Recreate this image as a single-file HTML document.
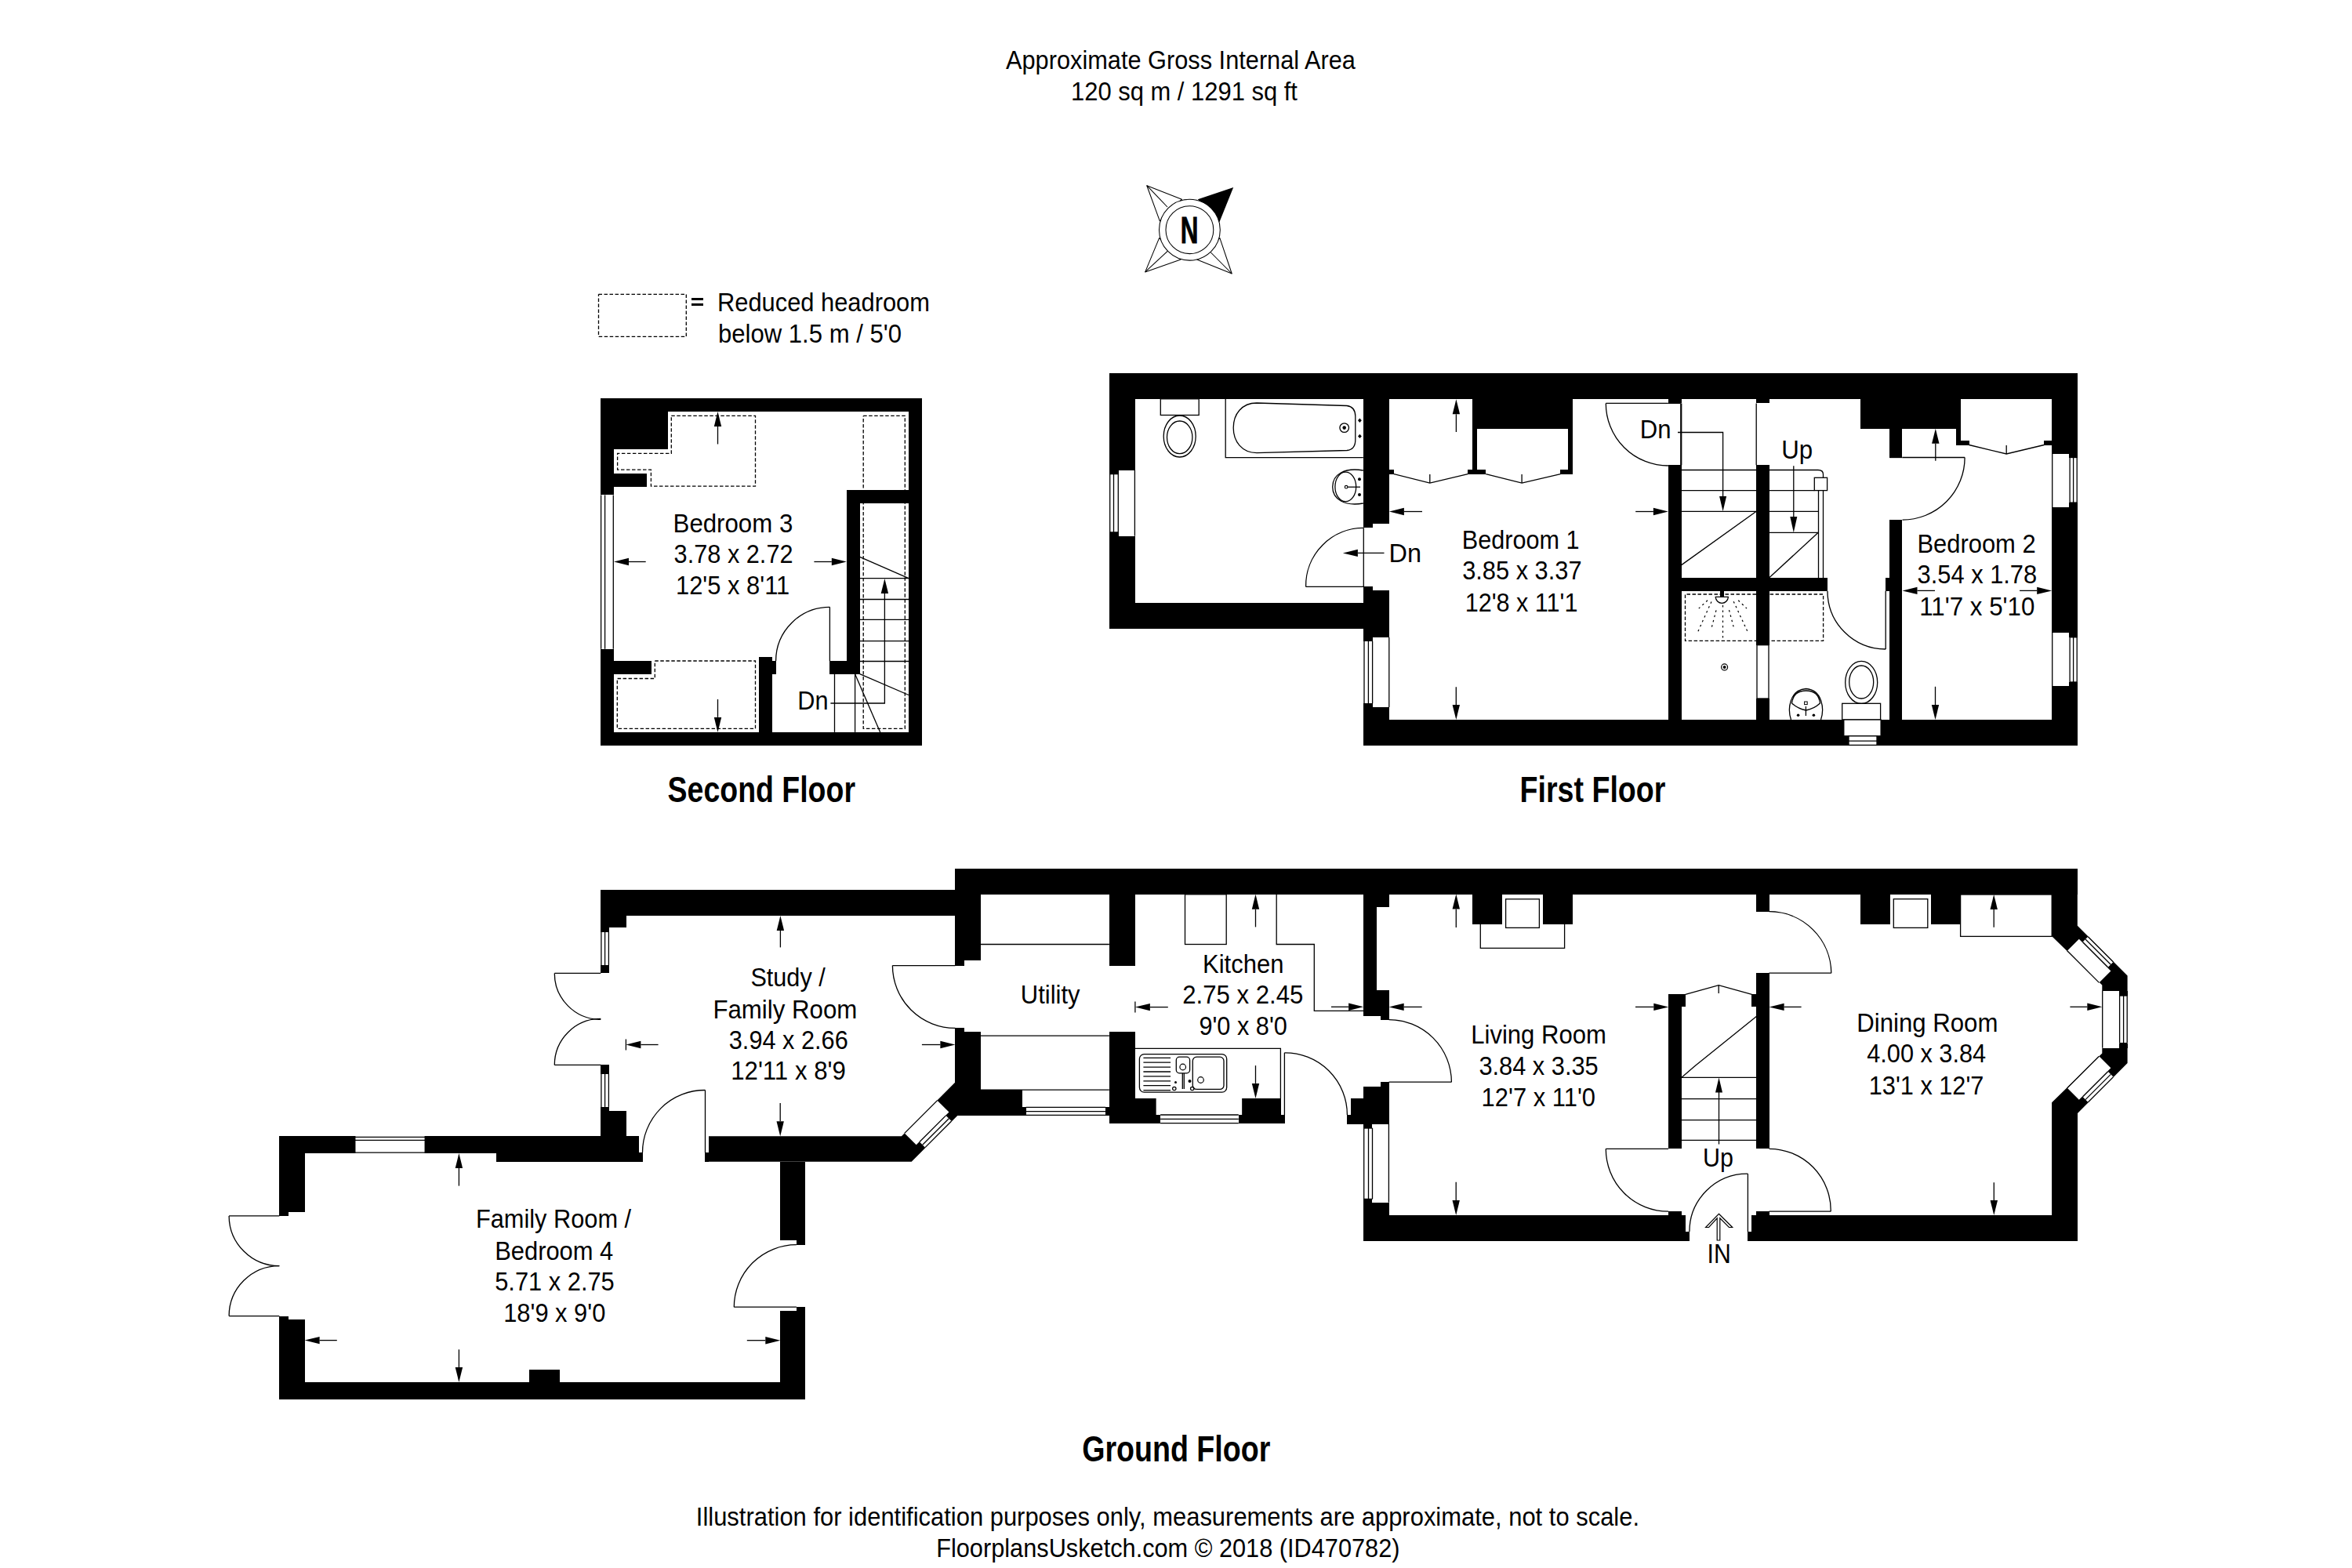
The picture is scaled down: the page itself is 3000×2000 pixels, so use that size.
<!DOCTYPE html>
<html><head><meta charset="utf-8"><style>
html,body{margin:0;padding:0;background:#fff;}
svg{display:block;}
text{font-family:"Liberation Sans",sans-serif;}
</style></head><body>
<svg width="3000" height="2000" viewBox="0 0 3000 2000">
<rect x="0" y="0" width="3000" height="2000" fill="#fff"/>
<text x="1283" y="88" font-family="Liberation Sans" font-size="33.3" textLength="445.92" lengthAdjust="spacingAndGlyphs" fill="#000">Approximate Gross Internal Area</text>
<text x="1366" y="127.5" font-family="Liberation Sans" font-size="33.3" textLength="288.97" lengthAdjust="spacingAndGlyphs" fill="#000">120 sq m / 1291 sq ft</text>
<polygon points="1462.8,236.7 1507.4,254.3 1479.3,281.9" fill="#fff" stroke="#000" stroke-width="1.05" stroke-linejoin="round"/>
<polyline points="1462.8,236.7 1489,264" fill="none" stroke="#000" stroke-width="1.05"/>
<polygon points="1460.7,346.9 1478.6,303.6 1506.1,330.9" fill="#fff" stroke="#000" stroke-width="1.05" stroke-linejoin="round"/>
<polyline points="1460.7,346.9 1489.5,320.2" fill="none" stroke="#000" stroke-width="1.05"/>
<polygon points="1571.2,349 1555.9,303.6 1526.5,330.9" fill="#fff" stroke="#000" stroke-width="1.05" stroke-linejoin="round"/>
<polyline points="1571.2,349 1544.4,322" fill="none" stroke="#000" stroke-width="1.05"/>
<polygon points="1573.2,239 1527.8,254.3 1555.4,283.2" fill="#000"/>
<circle cx="1517.4" cy="293.2" r="38.9" fill="#fff" stroke="#000" stroke-width="1.05"/>
<circle cx="1517.4" cy="293.2" r="30.4" fill="#fff" stroke="#000" stroke-width="1.05"/>
<g stroke="#000" stroke-width="0.9">
<text x="1505.8" y="310" font-family="Liberation Sans" font-weight="bold" font-size="48" textLength="22.67" lengthAdjust="spacingAndGlyphs" fill="#000">N</text>
</g>
<polyline points="763.5,375.3 875.3,375.3 875.3,429.4 763.5,429.4 763.5,375.3" fill="none" stroke="#000" stroke-width="1.3" stroke-dasharray="4.5,2.5"/>
<rect x="882" y="380" width="15" height="3" fill="#000" shape-rendering="crispEdges"/>
<rect x="882" y="387" width="15" height="3" fill="#000" shape-rendering="crispEdges"/>
<text x="915" y="397.3" font-family="Liberation Sans" font-size="33.3" textLength="270.97" lengthAdjust="spacingAndGlyphs" fill="#000">Reduced headroom</text>
<text x="916" y="437" font-family="Liberation Sans" font-size="33.3" textLength="233.95" lengthAdjust="spacingAndGlyphs" fill="#000">below 1.5 m / 5'0</text>
<polyline points="856.3,530.4 963.5,530.4 963.5,620.2 830.4,620.2 830.4,599.2 787.6,599.2 787.6,578.4 856.3,578.4 856.3,530.4" fill="none" stroke="#000" stroke-width="1.3" stroke-dasharray="4.5,2.5"/>
<polyline points="1101.2,530.4 1154.3,530.4 1154.3,929.4 1101.2,929.4 1101.2,530.4" fill="none" stroke="#000" stroke-width="1.3" stroke-dasharray="4.5,2.5"/>
<polyline points="835.3,843 963.5,843 963.5,929.4 787.3,929.4 787.3,865.5 835.3,865.5 835.3,843" fill="none" stroke="#000" stroke-width="1.3" stroke-dasharray="4.5,2.5"/>
<rect x="766" y="508" width="410" height="17" fill="#000" shape-rendering="crispEdges"/>
<rect x="766" y="934" width="410" height="17" fill="#000" shape-rendering="crispEdges"/>
<rect x="1159" y="508" width="17" height="443" fill="#000" shape-rendering="crispEdges"/>
<rect x="766" y="508" width="17" height="123" fill="#000" shape-rendering="crispEdges"/>
<rect x="766" y="828" width="17" height="123" fill="#000" shape-rendering="crispEdges"/>
<rect x="766" y="508" width="86" height="65" fill="#000" shape-rendering="crispEdges"/>
<rect x="783" y="604" width="42" height="17" fill="#000" shape-rendering="crispEdges"/>
<rect x="783" y="843" width="48" height="17" fill="#000" shape-rendering="crispEdges"/>
<rect x="968" y="838" width="17" height="96" fill="#000" shape-rendering="crispEdges"/>
<rect x="985" y="843" width="5" height="17" fill="#000" shape-rendering="crispEdges"/>
<rect x="1058" y="843" width="39" height="17" fill="#000" shape-rendering="crispEdges"/>
<rect x="1080" y="625" width="17" height="235" fill="#000" shape-rendering="crispEdges"/>
<rect x="1080" y="625" width="79" height="17" fill="#000" shape-rendering="crispEdges"/>
<rect x="766" y="631" width="17" height="197" fill="#fff" shape-rendering="crispEdges"/>
<polyline points="766.6,631.4 766.6,827.8" fill="none" stroke="#000" stroke-width="1.3"/>
<polyline points="771.6,631.4 771.6,827.8" fill="none" stroke="#000" stroke-width="1.3"/>
<polyline points="782.3,631.4 782.3,827.8" fill="none" stroke="#000" stroke-width="1.3"/>
<polyline points="1058.4,774.3 1058.4,843" fill="none" stroke="#000" stroke-width="1.3"/>
<path d="M1058.4,774.3 A68.8,68.8 0 0 0 989.6,843" fill="none" stroke="#000" stroke-width="1.3"/>
<polyline points="1096.7,737.6 1159,737.6" fill="none" stroke="#000" stroke-width="1.3"/>
<polyline points="1096.7,764.5 1159,764.5" fill="none" stroke="#000" stroke-width="1.3"/>
<polyline points="1096.7,790.4 1159,790.4" fill="none" stroke="#000" stroke-width="1.3"/>
<polyline points="1096.7,817.6 1159,817.6" fill="none" stroke="#000" stroke-width="1.3"/>
<polyline points="1096.7,843.5 1159,843.5" fill="none" stroke="#000" stroke-width="1.3"/>
<polyline points="1096.7,710.4 1159,737.6" fill="none" stroke="#000" stroke-width="1.3"/>
<polyline points="1096.7,859.6 1159,886.5" fill="none" stroke="#000" stroke-width="1.3"/>
<polyline points="1064.5,859.8 1064.5,933.9" fill="none" stroke="#000" stroke-width="1.3"/>
<polyline points="1090.6,859.8 1090.6,933.9" fill="none" stroke="#000" stroke-width="1.3"/>
<polyline points="1090.6,859.8 1122.7,933.9" fill="none" stroke="#000" stroke-width="1.3"/>
<polyline points="1059.4,897 1128.4,897 1128.4,757" fill="none" stroke="#000" stroke-width="1.3"/>
<polygon points="1128.4,738 1123.7,757 1133.1,757" fill="#000"/>
<text x="1017.3" y="905" font-family="Liberation Sans" font-size="33.3" textLength="39.25" lengthAdjust="spacingAndGlyphs" fill="#000">Dn</text>
<polyline points="915.5,566.5 915.5,544" fill="none" stroke="#000" stroke-width="1.3"/>
<polygon points="915.5,525 920.2,544 910.8,544" fill="#000"/>
<polyline points="915.5,892 915.5,914.9" fill="none" stroke="#000" stroke-width="1.3"/>
<polygon points="915.5,933.9 910.8,914.9 920.2,914.9" fill="#000"/>
<polyline points="823.7,716.5 802,716.5" fill="none" stroke="#000" stroke-width="1.3"/>
<polygon points="783,716.5 802,711.8 802,721.2" fill="#000"/>
<polyline points="1038.4,716.5 1060.8,716.5" fill="none" stroke="#000" stroke-width="1.3"/>
<polygon points="1079.8,716.5 1060.8,721.2 1060.8,711.8" fill="#000"/>
<text x="858.6" y="678.8" font-family="Liberation Sans" font-size="33.3" textLength="152.66" lengthAdjust="spacingAndGlyphs" fill="#000">Bedroom 3</text>
<text x="859.6" y="718" font-family="Liberation Sans" font-size="33.3" textLength="151.95" lengthAdjust="spacingAndGlyphs" fill="#000">3.78 x 2.72</text>
<text x="862" y="758" font-family="Liberation Sans" font-size="33.3" textLength="145.21" lengthAdjust="spacingAndGlyphs" fill="#000">12'5 x 8'11</text>
<text x="851.6" y="1022.6" font-family="Liberation Sans" font-weight="bold" font-size="46" textLength="239.37" lengthAdjust="spacingAndGlyphs" fill="#000">Second Floor</text>
<polyline points="2240,758 2149.5,758 2149.5,817.4 2240,817.4" fill="none" stroke="#000" stroke-width="1.3" stroke-dasharray="4.5,2.5"/>
<polyline points="2257.6,758 2325.6,758 2325.6,817.4 2257.6,817.4" fill="none" stroke="#000" stroke-width="1.3" stroke-dasharray="4.5,2.5"/>
<rect x="1415" y="476" width="1235" height="33" fill="#000" shape-rendering="crispEdges"/>
<rect x="1415" y="476" width="33" height="326" fill="#000" shape-rendering="crispEdges"/>
<rect x="1415" y="769" width="357" height="33" fill="#000" shape-rendering="crispEdges"/>
<rect x="1739" y="918" width="911" height="33" fill="#000" shape-rendering="crispEdges"/>
<rect x="2617" y="476" width="33" height="475" fill="#000" shape-rendering="crispEdges"/>
<rect x="1739" y="476" width="33" height="192" fill="#000" shape-rendering="crispEdges"/>
<rect x="1739" y="668" width="12" height="5" fill="#000" shape-rendering="crispEdges"/>
<rect x="1739" y="748" width="12" height="5" fill="#000" shape-rendering="crispEdges"/>
<rect x="1739" y="753" width="33" height="198" fill="#000" shape-rendering="crispEdges"/>
<rect x="1739" y="813" width="33" height="89" fill="#fff" shape-rendering="crispEdges"/>
<polyline points="1740,817.9 1740,897.3" fill="none" stroke="#000" stroke-width="1.3"/>
<polyline points="1745.4,817.9 1745.4,897.3" fill="none" stroke="#000" stroke-width="1.3"/>
<polyline points="1750.6,817.9 1750.6,897.3" fill="none" stroke="#000" stroke-width="1.3"/>
<rect x="1739" y="813" width="12" height="5" fill="#000" shape-rendering="crispEdges"/>
<rect x="1739" y="897" width="12" height="5" fill="#000" shape-rendering="crispEdges"/>
<polyline points="1771.8,813 1771.8,902" fill="none" stroke="#000" stroke-width="1.3"/>
<rect x="1415" y="600" width="33" height="84" fill="#fff" shape-rendering="crispEdges"/>
<rect x="1415" y="600" width="12" height="5" fill="#000" shape-rendering="crispEdges"/>
<rect x="1415" y="679" width="12" height="5" fill="#000" shape-rendering="crispEdges"/>
<polyline points="1415.7,604.6 1415.7,678.9" fill="none" stroke="#000" stroke-width="1.3"/>
<polyline points="1420.5,604.6 1420.5,678.9" fill="none" stroke="#000" stroke-width="1.3"/>
<polyline points="1426.3,604.6 1426.3,678.9" fill="none" stroke="#000" stroke-width="1.3"/>
<polyline points="1415.7,604.6 1426.3,604.6" fill="none" stroke="#000" stroke-width="1.3"/>
<polyline points="1415.7,678.9 1426.3,678.9" fill="none" stroke="#000" stroke-width="1.3"/>
<polyline points="1447.4,599.7 1447.4,683.7" fill="none" stroke="#000" stroke-width="1.3"/>
<rect x="1878" y="509" width="128" height="38" fill="#000" shape-rendering="crispEdges"/>
<rect x="1878" y="547" width="6" height="58" fill="#000" shape-rendering="crispEdges"/>
<rect x="2000" y="547" width="6" height="58" fill="#000" shape-rendering="crispEdges"/>
<rect x="1772" y="599" width="6" height="6" fill="#000" shape-rendering="crispEdges"/>
<rect x="1872" y="599" width="23" height="6" fill="#000" shape-rendering="crispEdges"/>
<rect x="1990" y="599" width="16" height="6" fill="#000" shape-rendering="crispEdges"/>
<polyline points="1777.9,604.6 1823.8,616.1 1872.2,604.6" fill="none" stroke="#000" stroke-width="1.3"/>
<polyline points="1823.8,616.1 1823.8,605" fill="none" stroke="#000" stroke-width="1.3"/>
<polyline points="1895.2,604.6 1941.1,616.1 1990.4,604.6" fill="none" stroke="#000" stroke-width="1.3"/>
<polyline points="1941.1,616.1 1941.1,605" fill="none" stroke="#000" stroke-width="1.3"/>
<rect x="2128" y="593" width="17" height="358" fill="#000" shape-rendering="crispEdges"/>
<rect x="2128" y="509" width="17" height="5" fill="#000" shape-rendering="crispEdges"/>
<rect x="2240" y="593" width="17" height="144" fill="#000" shape-rendering="crispEdges"/>
<rect x="2240" y="509" width="17" height="5" fill="#000" shape-rendering="crispEdges"/>
<rect x="2145" y="737" width="186" height="17" fill="#000" shape-rendering="crispEdges"/>
<rect x="2240" y="754" width="17" height="69" fill="#000" shape-rendering="crispEdges"/>
<rect x="2240" y="891" width="17" height="27" fill="#000" shape-rendering="crispEdges"/>
<rect x="2241" y="822.7" width="15" height="68.3" fill="#fff" stroke="#000" stroke-width="1.3"/>
<rect x="2405" y="737" width="5" height="17" fill="#000" shape-rendering="crispEdges"/>
<rect x="2373" y="509" width="128" height="38" fill="#000" shape-rendering="crispEdges"/>
<rect x="2410" y="547" width="16" height="37" fill="#000" shape-rendering="crispEdges"/>
<rect x="2495" y="547" width="6" height="21" fill="#000" shape-rendering="crispEdges"/>
<rect x="2495" y="562" width="17" height="6" fill="#000" shape-rendering="crispEdges"/>
<rect x="2607" y="562" width="10" height="6" fill="#000" shape-rendering="crispEdges"/>
<rect x="2410" y="663" width="16" height="288" fill="#000" shape-rendering="crispEdges"/>
<polyline points="2511.6,567.5 2559.2,579 2607.3,567.5" fill="none" stroke="#000" stroke-width="1.3"/>
<polyline points="2559.2,579 2559.2,568" fill="none" stroke="#000" stroke-width="1.3"/>
<rect x="2617" y="579" width="33" height="68" fill="#fff" shape-rendering="crispEdges"/>
<rect x="2639" y="579" width="11" height="5" fill="#000" shape-rendering="crispEdges"/>
<rect x="2639" y="641" width="11" height="6" fill="#000" shape-rendering="crispEdges"/>
<polyline points="2640.1,583.5 2640.1,641.1" fill="none" stroke="#000" stroke-width="1.3"/>
<polyline points="2644.6,583.5 2644.6,641.1" fill="none" stroke="#000" stroke-width="1.3"/>
<polyline points="2649.2,583.5 2649.2,641.1" fill="none" stroke="#000" stroke-width="1.3"/>
<polyline points="2640.1,583.5 2649.2,583.5" fill="none" stroke="#000" stroke-width="1.3"/>
<polyline points="2640.1,641.1 2649.2,641.1" fill="none" stroke="#000" stroke-width="1.3"/>
<polyline points="2617.7,578.9 2617.7,646.9" fill="none" stroke="#000" stroke-width="1.3"/>
<rect x="2617" y="807" width="33" height="68" fill="#fff" shape-rendering="crispEdges"/>
<rect x="2639" y="807" width="11" height="6" fill="#000" shape-rendering="crispEdges"/>
<rect x="2639" y="870" width="11" height="5" fill="#000" shape-rendering="crispEdges"/>
<polyline points="2640.1,812.8 2640.1,870" fill="none" stroke="#000" stroke-width="1.3"/>
<polyline points="2644.6,812.8 2644.6,870" fill="none" stroke="#000" stroke-width="1.3"/>
<polyline points="2649.2,812.8 2649.2,870" fill="none" stroke="#000" stroke-width="1.3"/>
<polyline points="2640.1,812.8 2649.2,812.8" fill="none" stroke="#000" stroke-width="1.3"/>
<polyline points="2640.1,870 2649.2,870" fill="none" stroke="#000" stroke-width="1.3"/>
<polyline points="2617.7,807 2617.7,875" fill="none" stroke="#000" stroke-width="1.3"/>
<polyline points="1739.3,748.4 1665.6,748.4" fill="none" stroke="#000" stroke-width="1.3"/>
<path d="M1665.6,748.4 A73.7,73.7 0 0 1 1739.3,673.4" fill="none" stroke="#000" stroke-width="1.3"/>
<polyline points="1739.3,673.4 1739.3,748.4" fill="none" stroke="#000" stroke-width="1.3"/>
<polyline points="2127.9,514.4 2048.3,514.4" fill="none" stroke="#000" stroke-width="1.3"/>
<path d="M2048.3,514.4 A79.6,79.6 0 0 0 2127.9,594" fill="none" stroke="#000" stroke-width="1.3"/>
<polyline points="2143.8,514.4 2143.8,593.3" fill="none" stroke="#000" stroke-width="1.3"/>
<polyline points="2127.9,514.4 2143.8,514.4" fill="none" stroke="#000" stroke-width="1.3"/>
<polyline points="2426.5,583.5 2506.1,583.5" fill="none" stroke="#000" stroke-width="1.3"/>
<path d="M2506.1,583.5 A79.6,79.6 0 0 1 2426.5,663.1" fill="none" stroke="#000" stroke-width="1.3"/>
<polyline points="2410.3,583.5 2426.5,583.5" fill="none" stroke="#000" stroke-width="1.3"/>
<polyline points="2405.2,753.9 2405.2,828" fill="none" stroke="#000" stroke-width="1.3"/>
<path d="M2405.2,828 A74.1,74.1 0 0 1 2331,753.9" fill="none" stroke="#000" stroke-width="1.3"/>
<polyline points="2144.7,514.4 2144.7,593.3" fill="none" stroke="#000" stroke-width="1.3"/>
<polyline points="2240.2,514.4 2240.2,593.3" fill="none" stroke="#000" stroke-width="1.3"/>
<polyline points="2144.7,599.5 2240.2,599.5" fill="none" stroke="#000" stroke-width="1.3"/>
<polyline points="2144.7,625.6 2240.2,625.6" fill="none" stroke="#000" stroke-width="1.3"/>
<polyline points="2144.7,652.3 2240.2,652.3" fill="none" stroke="#000" stroke-width="1.3"/>
<polyline points="2240.2,652.3 2144.7,720.6" fill="none" stroke="#000" stroke-width="1.3"/>
<polyline points="2140,551.5 2197.6,551.5 2197.6,634" fill="none" stroke="#000" stroke-width="1.3"/>
<polygon points="2197.6,652.3 2193.1,633 2202.1,633" fill="#000"/>
<text x="2091.8" y="558.6" font-family="Liberation Sans" font-size="33.3" textLength="39.75" lengthAdjust="spacingAndGlyphs" fill="#000">Dn</text>
<polyline points="2256.8,599.5 2319,599.5" fill="none" stroke="#000" stroke-width="1.3"/>
<path d="M2319,599.5 Q2325.5,599.5 2325.5,605 L2325.5,609.3" fill="none" stroke="#000" stroke-width="1.3"/>
<rect x="2314.3" y="609.3" width="16.3" height="16.3" fill="#fff" stroke="#000" stroke-width="1.3"/>
<polyline points="2256.8,625.6 2314.3,625.6" fill="none" stroke="#000" stroke-width="1.3"/>
<polyline points="2256.8,652.3 2319.5,652.3" fill="none" stroke="#000" stroke-width="1.3"/>
<polyline points="2256.8,679.3 2319.5,679.3" fill="none" stroke="#000" stroke-width="1.3"/>
<polyline points="2319.5,625.6 2319.5,737" fill="none" stroke="#000" stroke-width="1.3"/>
<polyline points="2325.5,625.6 2325.5,737" fill="none" stroke="#000" stroke-width="1.3"/>
<polyline points="2319.2,679.3 2256.8,736.7" fill="none" stroke="#000" stroke-width="1.3"/>
<polyline points="2287.8,594.3 2287.8,660" fill="none" stroke="#000" stroke-width="1.3"/>
<polygon points="2287.8,679.3 2283.3,659 2292.3,659" fill="#000"/>
<text x="2272.2" y="585" font-family="Liberation Sans" font-size="33.3" textLength="39.95" lengthAdjust="spacingAndGlyphs" fill="#000">Up</text>
<rect x="1480.3" y="508.8" width="48.9" height="20.7" fill="#fff" stroke="#000" stroke-width="1.3"/>
<ellipse cx="1504.7" cy="556.5" rx="20.5" ry="26.5" fill="none" stroke="#000" stroke-width="1.3"/>
<ellipse cx="1504.7" cy="557.8" rx="16.2" ry="20.8" fill="none" stroke="#000" stroke-width="1.3"/>
<polyline points="1563.2,508.8 1563.2,583.6 1738.8,583.6" fill="none" stroke="#000" stroke-width="1.3"/>
<path d="M1603,514 L1718,517.5 Q1728.8,519 1728.8,531 L1728.8,561 Q1728.8,573.5 1718,574.5 L1603,577.6 C1584,577.6 1573.2,563 1573.2,545.8 C1573.2,528 1584,514 1603,514 Z" fill="none" stroke="#000" stroke-width="1.3"/>
<circle cx="1714.7" cy="545.6" r="5.8" fill="none" stroke="#000" stroke-width="1.3"/><circle cx="1714.7" cy="545.6" r="2.3" fill="#000"/>
<polygon points="1734.4,533.6 1736.8,536.3 1734.4,539 1732,536.3" fill="#000"/>
<polygon points="1734.4,553.7 1736.8,556.4 1734.4,559.1 1732,556.4" fill="#000"/>
<path d="M1738.8,600 C1715,596 1699.7,605 1699.7,621 C1699.7,637 1715,646 1738.8,642" fill="none" stroke="#000" stroke-width="1.3"/>
<ellipse cx="1716.3" cy="620.9" rx="13.4" ry="18.7" fill="none" stroke="#000" stroke-width="1.3"/>
<circle cx="1717.1" cy="621.2" r="1.8" fill="none" stroke="#000" stroke-width="1.1"/>
<polyline points="1719,621.2 1735,621.2" fill="none" stroke="#000" stroke-width="1.3"/>
<circle cx="1734" cy="611.3" r="2" fill="#000"/><circle cx="1734" cy="631" r="2" fill="#000"/>
<rect x="2194" y="754" width="5" height="7" fill="#000" shape-rendering="crispEdges"/>
<path d="M2188.3,761.4 L2204.3,761.4 A8,8 0 0 1 2188.3,761.4 Z" fill="#fff" stroke="#000" stroke-width="1.3"/>
<polyline points="2183,767.4 2164.4,808.6" fill="none" stroke="#000" stroke-width="1.2" stroke-dasharray="2.5,4"/>
<polyline points="2189,778.4 2182.8,802.1" fill="none" stroke="#000" stroke-width="1.2" stroke-dasharray="2.5,4"/>
<polyline points="2178,765.8 2166.8,776.1" fill="none" stroke="#000" stroke-width="1.2" stroke-dasharray="2.5,4"/>
<polyline points="2197.5,772 2197.5,817.4" fill="none" stroke="#000" stroke-width="1.2" stroke-dasharray="2.5,4"/>
<polyline points="2205.5,778.2 2212,802.7" fill="none" stroke="#000" stroke-width="1.2" stroke-dasharray="2.5,4"/>
<polyline points="2211.2,767.2 2230.4,808.6" fill="none" stroke="#000" stroke-width="1.2" stroke-dasharray="2.5,4"/>
<polyline points="2217.2,765.8 2228,776.1" fill="none" stroke="#000" stroke-width="1.2" stroke-dasharray="2.5,4"/>
<circle cx="2199.6" cy="850.9" r="4" fill="none" stroke="#000" stroke-width="1.2"/><circle cx="2199.6" cy="850.9" r="2" fill="#000"/>
<path d="M2284.5,918 C2280,905 2282,880 2303.6,878.5 C2325,880 2327,905 2322.5,918" fill="none" stroke="#000" stroke-width="1.3"/>
<path d="M2285.5,897 C2287,884 2295,881 2303.6,881 C2312,881 2320,884 2321.5,897 C2315,903 2309,905 2303.6,906 C2298,905 2292,903 2285.5,897 Z" fill="none" stroke="#000" stroke-width="1.3"/>
<rect x="2301.6" y="895" width="3.6" height="3.6" fill="#fff" stroke="#000" stroke-width="1"/>
<polyline points="2303.4,901 2303.4,913" fill="none" stroke="#000" stroke-width="1.3"/>
<circle cx="2293.6" cy="912.3" r="1.8" fill="#000"/><circle cx="2313.4" cy="912.3" r="1.8" fill="#000"/>
<rect x="2349.7" y="897.3" width="48.9" height="20.7" fill="#fff" stroke="#000" stroke-width="1.3"/>
<ellipse cx="2374.2" cy="870.4" rx="20.5" ry="27" fill="none" stroke="#000" stroke-width="1.3"/>
<ellipse cx="2374.2" cy="870" rx="15.5" ry="21" fill="none" stroke="#000" stroke-width="1.3"/>
<rect x="2351.8" y="918" width="47.3" height="20.8" fill="#fff" stroke="#000" stroke-width="1.3"/>
<rect x="2358" y="938.8" width="36" height="11.6" fill="#fff" stroke="#000" stroke-width="1.3"/>
<polyline points="2358,945.1 2394,945.1" fill="none" stroke="#000" stroke-width="1.3"/>
<polyline points="1857.4,551 1857.4,528.3" fill="none" stroke="#000" stroke-width="1.3"/>
<polygon points="1857.4,509.3 1862.1,528.3 1852.7,528.3" fill="#000"/>
<polyline points="1814,652.5 1790.9,652.5" fill="none" stroke="#000" stroke-width="1.3"/>
<polygon points="1771.9,652.5 1790.9,647.8 1790.9,657.2" fill="#000"/>
<polyline points="2086.2,652.5 2108.9,652.5" fill="none" stroke="#000" stroke-width="1.3"/>
<polygon points="2127.9,652.5 2108.9,657.2 2108.9,647.8" fill="#000"/>
<polyline points="1857.3,876.2 1857.3,898.9" fill="none" stroke="#000" stroke-width="1.3"/>
<polygon points="1857.3,917.9 1852.6,898.9 1862,898.9" fill="#000"/>
<polyline points="1765.5,705.4 1731.9,705.4" fill="none" stroke="#000" stroke-width="1.3"/>
<polygon points="1712.9,705.4 1731.9,700.7 1731.9,710.1" fill="#000"/>
<polyline points="2468.8,587.7 2468.8,565.7" fill="none" stroke="#000" stroke-width="1.3"/>
<polygon points="2468.8,546.7 2473.5,565.7 2464.1,565.7" fill="#000"/>
<polyline points="2468,753.4 2445.5,753.4" fill="none" stroke="#000" stroke-width="1.3"/>
<polygon points="2426.5,753.4 2445.5,748.7 2445.5,758.1" fill="#000"/>
<polyline points="2576.1,753.4 2598.2,753.4" fill="none" stroke="#000" stroke-width="1.3"/>
<polygon points="2617.2,753.4 2598.2,758.1 2598.2,748.7" fill="#000"/>
<polyline points="2468.5,875.8 2468.5,899" fill="none" stroke="#000" stroke-width="1.3"/>
<polygon points="2468.5,918 2463.8,899 2473.2,899" fill="#000"/>
<text x="1771.6" y="717.4" font-family="Liberation Sans" font-size="33.3" textLength="41.55" lengthAdjust="spacingAndGlyphs" fill="#000">Dn</text>
<text x="1864.8" y="700.2" font-family="Liberation Sans" font-size="33.3" textLength="149.65" lengthAdjust="spacingAndGlyphs" fill="#000">Bedroom 1</text>
<text x="1865.2" y="739.4" font-family="Liberation Sans" font-size="33.3" textLength="152.35" lengthAdjust="spacingAndGlyphs" fill="#000">3.85 x 3.37</text>
<text x="1868.8" y="779.6" font-family="Liberation Sans" font-size="33.3" textLength="143.61" lengthAdjust="spacingAndGlyphs" fill="#000">12'8 x 11'1</text>
<text x="2445.4" y="704.6" font-family="Liberation Sans" font-size="33.3" textLength="151.26" lengthAdjust="spacingAndGlyphs" fill="#000">Bedroom 2</text>
<text x="2445.6" y="744.4" font-family="Liberation Sans" font-size="33.3" textLength="152.55" lengthAdjust="spacingAndGlyphs" fill="#000">3.54 x 1.78</text>
<text x="2448.3" y="784.6" font-family="Liberation Sans" font-size="33.3" textLength="147.01" lengthAdjust="spacingAndGlyphs" fill="#000">11'7 x 5'10</text>
<text x="1938.6" y="1022.9" font-family="Liberation Sans" font-weight="bold" font-size="46" textLength="185.78" lengthAdjust="spacingAndGlyphs" fill="#000">First Floor</text>
<rect x="356" y="1449" width="277" height="22" fill="#000" shape-rendering="crispEdges"/>
<rect x="633" y="1449" width="182" height="33" fill="#000" shape-rendering="crispEdges"/>
<rect x="815" y="1470" width="5" height="12" fill="#000" shape-rendering="crispEdges"/>
<rect x="899" y="1470" width="5" height="12" fill="#000" shape-rendering="crispEdges"/>
<rect x="356" y="1449" width="33" height="97" fill="#000" shape-rendering="crispEdges"/>
<rect x="356" y="1546" width="12" height="5" fill="#000" shape-rendering="crispEdges"/>
<rect x="356" y="1679" width="12" height="4" fill="#000" shape-rendering="crispEdges"/>
<rect x="356" y="1683" width="33" height="102" fill="#000" shape-rendering="crispEdges"/>
<rect x="356" y="1763" width="671" height="22" fill="#000" shape-rendering="crispEdges"/>
<rect x="675" y="1747" width="39" height="17" fill="#000" shape-rendering="crispEdges"/>
<rect x="995" y="1482" width="32" height="100" fill="#000" shape-rendering="crispEdges"/>
<rect x="1016" y="1582" width="11" height="6" fill="#000" shape-rendering="crispEdges"/>
<rect x="1016" y="1667" width="11" height="5" fill="#000" shape-rendering="crispEdges"/>
<rect x="995" y="1672" width="32" height="113" fill="#000" shape-rendering="crispEdges"/>
<rect x="453" y="1449" width="89" height="22" fill="#fff" shape-rendering="crispEdges"/>
<polyline points="452.8,1450.3 542.2,1450.3" fill="none" stroke="#000" stroke-width="1.3"/>
<polyline points="452.8,1454.4 542.2,1454.4" fill="none" stroke="#000" stroke-width="1.3"/>
<polyline points="452.8,1470.2 542.2,1470.2" fill="none" stroke="#000" stroke-width="1.3"/>
<polyline points="452.8,1449.1 452.8,1470.9" fill="none" stroke="#000" stroke-width="1.3"/>
<polyline points="542.2,1449.1 542.2,1470.9" fill="none" stroke="#000" stroke-width="1.3"/>
<polyline points="356.3,1550.9 292.1,1550.9" fill="none" stroke="#000" stroke-width="1.3"/>
<path d="M292.1,1550.9 A64.2,64.2 0 0 0 356.3,1614.6" fill="none" stroke="#000" stroke-width="1.3"/>
<polyline points="356.3,1678.6 292.1,1678.6" fill="none" stroke="#000" stroke-width="1.3"/>
<path d="M292.1,1678.6 A64.2,64.2 0 0 1 356.3,1614.6" fill="none" stroke="#000" stroke-width="1.3"/>
<polyline points="1015.9,1667.2 936.3,1667.2" fill="none" stroke="#000" stroke-width="1.3"/>
<path d="M936.3,1667.2 A79.6,79.6 0 0 1 1015.9,1587.7" fill="none" stroke="#000" stroke-width="1.3"/>
<polyline points="585.4,1512.6 585.4,1489.9" fill="none" stroke="#000" stroke-width="1.3"/>
<polygon points="585.4,1470.9 590.1,1489.9 580.7,1489.9" fill="#000"/>
<polyline points="585.4,1721.3 585.4,1744" fill="none" stroke="#000" stroke-width="1.3"/>
<polygon points="585.4,1763 580.7,1744 590.1,1744" fill="#000"/>
<polyline points="429.8,1709.6 407.6,1709.6" fill="none" stroke="#000" stroke-width="1.3"/>
<polygon points="388.6,1709.6 407.6,1704.9 407.6,1714.3" fill="#000"/>
<polyline points="952.8,1709.7 976.3,1709.7" fill="none" stroke="#000" stroke-width="1.3"/>
<polygon points="995.3,1709.7 976.3,1714.4 976.3,1705" fill="#000"/>
<text x="607" y="1566.4" font-family="Liberation Sans" font-size="33.3" textLength="198.06" lengthAdjust="spacingAndGlyphs" fill="#000">Family Room /</text>
<text x="631.2" y="1606.5" font-family="Liberation Sans" font-size="33.3" textLength="151.06" lengthAdjust="spacingAndGlyphs" fill="#000">Bedroom 4</text>
<text x="631.2" y="1646" font-family="Liberation Sans" font-size="33.3" textLength="152.55" lengthAdjust="spacingAndGlyphs" fill="#000">5.71 x 2.75</text>
<text x="642.2" y="1686.1" font-family="Liberation Sans" font-size="33.3" textLength="130.15" lengthAdjust="spacingAndGlyphs" fill="#000">18'9 x 9'0</text>
<rect x="766" y="1135" width="452" height="33" fill="#000" shape-rendering="crispEdges"/>
<rect x="766" y="1135" width="33" height="48" fill="#000" shape-rendering="crispEdges"/>
<rect x="766" y="1135" width="11" height="54" fill="#000" shape-rendering="crispEdges"/>
<rect x="766" y="1231" width="11" height="10" fill="#000" shape-rendering="crispEdges"/>
<rect x="766" y="1358" width="11" height="12" fill="#000" shape-rendering="crispEdges"/>
<rect x="766" y="1412" width="11" height="70" fill="#000" shape-rendering="crispEdges"/>
<rect x="777" y="1417" width="22" height="32" fill="#000" shape-rendering="crispEdges"/>
<rect x="766" y="1189" width="11" height="42" fill="#fff" shape-rendering="crispEdges"/>
<polyline points="766.9,1188.8 766.9,1231" fill="none" stroke="#000" stroke-width="1.3"/>
<polyline points="771.6,1188.8 771.6,1231" fill="none" stroke="#000" stroke-width="1.3"/>
<polyline points="776.4,1188.8 776.4,1231" fill="none" stroke="#000" stroke-width="1.3"/>
<rect x="766" y="1370" width="11" height="42" fill="#fff" shape-rendering="crispEdges"/>
<polyline points="766.9,1369.6 766.9,1411.9" fill="none" stroke="#000" stroke-width="1.3"/>
<polyline points="771.6,1369.6 771.6,1411.9" fill="none" stroke="#000" stroke-width="1.3"/>
<polyline points="776.4,1369.6 776.4,1411.9" fill="none" stroke="#000" stroke-width="1.3"/>
<polyline points="766.3,1241.4 707.3,1241.4" fill="none" stroke="#000" stroke-width="1.3"/>
<path d="M707.3,1241.4 A59,59 0 0 0 766.3,1300.4" fill="none" stroke="#000" stroke-width="1.3"/>
<polyline points="766.3,1358.4 707.3,1358.4" fill="none" stroke="#000" stroke-width="1.3"/>
<path d="M707.3,1358.4 A59,59 0 0 1 766.3,1299.4" fill="none" stroke="#000" stroke-width="1.3"/>
<polygon points="1218.3,1380.5 1250.9,1380.5 1250.9,1422.9 1221.3,1422.9 1162.7,1481.8 904,1481.8 904,1449.3 1149.9,1449.3" fill="#000"/>
<polygon points="1153.8,1445.4 1195.55,1403.65 1210.45,1418.55 1168.7,1460.3" fill="#fff"/>
<polygon points="1172.7,1456.3 1206.3,1422.7 1214.2,1430.6 1180.6,1464.2" fill="#fff"/>
<polyline points="1153.8,1445.4 1195.55,1403.65" fill="none" stroke="#000" stroke-width="1.3"/>
<polyline points="1172.9,1456.5 1206.5,1422.9" fill="none" stroke="#000" stroke-width="1.3"/>
<polyline points="1176.7,1460.3 1210.3,1426.7" fill="none" stroke="#000" stroke-width="1.3"/>
<polyline points="1180,1463.6 1213.6,1430" fill="none" stroke="#000" stroke-width="1.3"/>
<rect x="1218" y="1108" width="33" height="117" fill="#000" shape-rendering="crispEdges"/>
<rect x="1218" y="1225" width="12" height="7" fill="#000" shape-rendering="crispEdges"/>
<rect x="1218" y="1311" width="12" height="5" fill="#000" shape-rendering="crispEdges"/>
<rect x="1218" y="1316" width="33" height="74" fill="#000" shape-rendering="crispEdges"/>
<polyline points="1218.4,1231.6 1138.4,1231.6" fill="none" stroke="#000" stroke-width="1.3"/>
<path d="M1138.4,1231.6 A80,80 0 0 0 1218.4,1311.4" fill="none" stroke="#000" stroke-width="1.3"/>
<polyline points="899.5,1470 899.5,1390.5" fill="none" stroke="#000" stroke-width="1.3"/>
<path d="M899.5,1390.5 A79.5,79.5 0 0 0 819.5,1470" fill="none" stroke="#000" stroke-width="1.3"/>
<polyline points="995.4,1208.4 995.4,1186.9" fill="none" stroke="#000" stroke-width="1.3"/>
<polygon points="995.4,1167.9 1000.1,1186.9 990.7,1186.9" fill="#000"/>
<polyline points="995.2,1407 995.2,1430.3" fill="none" stroke="#000" stroke-width="1.3"/>
<polygon points="995.2,1449.3 990.5,1430.3 999.9,1430.3" fill="#000"/>
<polyline points="839.6,1332.5 817.4,1332.5" fill="none" stroke="#000" stroke-width="1.3"/>
<polygon points="798.4,1332.5 817.4,1327.8 817.4,1337.2" fill="#000"/>
<polyline points="798.4,1325.5 798.4,1339.5" fill="none" stroke="#000" stroke-width="1.3"/>
<polyline points="1175.9,1332.5 1199.4,1332.5" fill="none" stroke="#000" stroke-width="1.3"/>
<polygon points="1218.4,1332.5 1199.4,1337.2 1199.4,1327.8" fill="#000"/>
<text x="957.4" y="1258.4" font-family="Liberation Sans" font-size="33.3" textLength="95.33" lengthAdjust="spacingAndGlyphs" fill="#000">Study /</text>
<text x="909.4" y="1298.6" font-family="Liberation Sans" font-size="33.3" textLength="184" lengthAdjust="spacingAndGlyphs" fill="#000">Family Room</text>
<text x="929.8" y="1337.5" font-family="Liberation Sans" font-size="33.3" textLength="151.95" lengthAdjust="spacingAndGlyphs" fill="#000">3.94 x 2.66</text>
<text x="932.2" y="1377.1" font-family="Liberation Sans" font-size="33.3" textLength="146.61" lengthAdjust="spacingAndGlyphs" fill="#000">12'11 x 8'9</text>
<rect x="1218" y="1108" width="1432" height="33" fill="#000" shape-rendering="crispEdges"/>
<polygon points="2617.2,1108 2649.8,1108 2649.8,1180.7 2713.6,1244.6 2713.6,1356 2650,1419.9 2650,1582.6 2617.1,1582.6 2617.1,1406.2 2681.3,1343.6 2681.3,1256.6 2617.2,1194.2" fill="#000"/>
<polygon points="2636.8,1212.8 2677.4,1253.4 2692.4,1238.4 2651.8,1197.8" fill="#fff"/>
<polygon points="2656,1202 2688.25,1234.25 2695.75,1226.75 2663.5,1194.5" fill="#fff"/>
<polyline points="2636.8,1212.8 2677.4,1253.4" fill="none" stroke="#000" stroke-width="1.3"/>
<polyline points="2656.45,1201.55 2688.7,1233.8" fill="none" stroke="#000" stroke-width="1.3"/>
<polyline points="2660,1198 2692.25,1230.25" fill="none" stroke="#000" stroke-width="1.3"/>
<polyline points="2663.3,1194.7 2695.55,1226.95" fill="none" stroke="#000" stroke-width="1.3"/>
<polygon points="2636.8,1387.8 2677.4,1347.2 2692.4,1362.2 2651.8,1402.8" fill="#fff"/>
<polygon points="2656,1398.6 2688.25,1366.35 2695.75,1373.85 2663.5,1406.1" fill="#fff"/>
<polyline points="2636.8,1387.8 2677.4,1347.2" fill="none" stroke="#000" stroke-width="1.3"/>
<polyline points="2656.45,1399.05 2688.7,1366.8" fill="none" stroke="#000" stroke-width="1.3"/>
<polyline points="2660,1402.6 2692.25,1370.35" fill="none" stroke="#000" stroke-width="1.3"/>
<polyline points="2663.3,1405.9 2695.55,1373.65" fill="none" stroke="#000" stroke-width="1.3"/>
<rect x="2681" y="1264" width="33" height="73" fill="#fff" shape-rendering="crispEdges"/>
<rect x="2703" y="1264" width="11" height="6" fill="#000" shape-rendering="crispEdges"/>
<rect x="2703" y="1331" width="11" height="6" fill="#000" shape-rendering="crispEdges"/>
<polyline points="2703.6,1270 2703.6,1330.6" fill="none" stroke="#000" stroke-width="1.3"/>
<polyline points="2708.6,1270 2708.6,1330.6" fill="none" stroke="#000" stroke-width="1.3"/>
<polyline points="2713.2,1270 2713.2,1330.6" fill="none" stroke="#000" stroke-width="1.3"/>
<polyline points="2681.7,1263.8 2681.7,1336.8" fill="none" stroke="#000" stroke-width="1.3"/>
<polyline points="2703.6,1270 2713.2,1270" fill="none" stroke="#000" stroke-width="1.3"/>
<polyline points="2703.6,1330.6 2713.2,1330.6" fill="none" stroke="#000" stroke-width="1.3"/>
<rect x="1218" y="1390" width="197" height="33" fill="#000" shape-rendering="crispEdges"/>
<rect x="1304" y="1390" width="111" height="22" fill="#fff" shape-rendering="crispEdges"/>
<rect x="1309" y="1412" width="101" height="11" fill="#fff" shape-rendering="crispEdges"/>
<polyline points="1308.7,1412.3 1410,1412.3" fill="none" stroke="#000" stroke-width="1.3"/>
<polyline points="1308.7,1417.7 1410,1417.7" fill="none" stroke="#000" stroke-width="1.3"/>
<polyline points="1308.7,1422.4 1410,1422.4" fill="none" stroke="#000" stroke-width="1.3"/>
<polyline points="1250.8,1390.2 1414.9,1390.2" fill="none" stroke="#000" stroke-width="1.3"/>
<rect x="1415" y="1141" width="33" height="91" fill="#000" shape-rendering="crispEdges"/>
<rect x="1415" y="1316" width="33" height="117" fill="#000" shape-rendering="crispEdges"/>
<polyline points="1250.8,1204.5 1414.9,1204.5" fill="none" stroke="#000" stroke-width="1.3"/>
<polyline points="1250.8,1321.2 1414.9,1321.2" fill="none" stroke="#000" stroke-width="1.3"/>
<text x="1301.8" y="1280.4" font-family="Liberation Sans" font-size="33.3" textLength="75.78" lengthAdjust="spacingAndGlyphs" fill="#000">Utility</text>
<polyline points="1489.8,1284.6 1466.9,1284.6" fill="none" stroke="#000" stroke-width="1.3"/>
<polygon points="1447.9,1284.6 1466.9,1279.9 1466.9,1289.3" fill="#000"/>
<polyline points="1447.9,1277.6 1447.9,1291.6" fill="none" stroke="#000" stroke-width="1.3"/>
<rect x="1448" y="1401" width="186" height="32" fill="#000" shape-rendering="crispEdges"/>
<rect x="1634" y="1422" width="5" height="11" fill="#000" shape-rendering="crispEdges"/>
<rect x="1474" y="1401" width="111" height="21" fill="#fff" shape-rendering="crispEdges"/>
<rect x="1480" y="1422" width="100" height="11" fill="#fff" shape-rendering="crispEdges"/>
<polyline points="1480.1,1422 1579.8,1422" fill="none" stroke="#000" stroke-width="1.3"/>
<polyline points="1480.1,1427.4 1579.8,1427.4" fill="none" stroke="#000" stroke-width="1.3"/>
<polyline points="1480.1,1432.6 1579.8,1432.6" fill="none" stroke="#000" stroke-width="1.3"/>
<polyline points="1474,1400.9 1474,1422" fill="none" stroke="#000" stroke-width="1.3"/>
<polyline points="1584.8,1400.9 1584.8,1422" fill="none" stroke="#000" stroke-width="1.3"/>
<rect x="1511.5" y="1140.8" width="52.7" height="63.7" fill="#fff" stroke="#000" stroke-width="1.3"/>
<polyline points="1628.2,1140.8 1628.2,1204.5 1676.3,1204.5 1676.3,1289.3 1739.1,1289.3" fill="none" stroke="#000" stroke-width="1.3"/>
<polyline points="1448,1337.4 1633.4,1337.4 1633.4,1400.9" fill="none" stroke="#000" stroke-width="1.3"/>
<rect x="1453.4" y="1344.6" width="111.3" height="48.5" rx="6" fill="none" stroke="#000" stroke-width="1.3"/>
<rect x="1521.3" y="1348.2" width="39.7" height="41.2" rx="5" fill="none" stroke="#000" stroke-width="1.3"/>
<rect x="1500.3" y="1348.2" width="17.3" height="20.6" rx="4" fill="none" stroke="#000" stroke-width="1.3"/>
<circle cx="1508.7" cy="1361" r="3.8" fill="none" stroke="#000" stroke-width="1.2"/>
<circle cx="1531.5" cy="1377.5" r="3.8" fill="none" stroke="#000" stroke-width="1.2"/>
<polyline points="1458.4,1349.3 1493.1,1349.3" fill="none" stroke="#000" stroke-width="1.3"/>
<polyline points="1458.4,1355.2 1493.1,1355.2" fill="none" stroke="#000" stroke-width="1.3"/>
<polyline points="1458.4,1361.1 1493.1,1361.1" fill="none" stroke="#000" stroke-width="1.3"/>
<polyline points="1458.4,1367 1493.1,1367" fill="none" stroke="#000" stroke-width="1.3"/>
<polyline points="1458.4,1372.9 1493.1,1372.9" fill="none" stroke="#000" stroke-width="1.3"/>
<polyline points="1458.4,1378.8 1493.1,1378.8" fill="none" stroke="#000" stroke-width="1.3"/>
<polyline points="1458.4,1384.7 1493.1,1384.7" fill="none" stroke="#000" stroke-width="1.3"/>
<polyline points="1458.4,1390.6 1493.1,1390.6" fill="none" stroke="#000" stroke-width="1.3"/>
<polyline points="1508.3,1369 1508.3,1389" fill="none" stroke="#000" stroke-width="1.3"/>
<polyline points="1510.3,1369 1510.3,1389" fill="none" stroke="#000" stroke-width="1.3"/>
<circle cx="1497.8" cy="1388.5" r="2.2" fill="none" stroke="#000" stroke-width="1.2"/><circle cx="1520.7" cy="1388.5" r="2.2" fill="none" stroke="#000" stroke-width="1.2"/><circle cx="1517.5" cy="1379" r="2" fill="#000"/><circle cx="1499.5" cy="1380.5" r="1.5" fill="#000"/>
<polyline points="1638.4,1422 1638.4,1342.8" fill="none" stroke="#000" stroke-width="1.3"/>
<path d="M1638.4,1342.8 A79.2,79.2 0 0 1 1718.4,1422" fill="none" stroke="#000" stroke-width="1.3"/>
<polyline points="1601.5,1182.4 1601.5,1159.8" fill="none" stroke="#000" stroke-width="1.3"/>
<polygon points="1601.5,1140.8 1606.2,1159.8 1596.8,1159.8" fill="#000"/>
<polyline points="1601.5,1359.1 1601.5,1381.9" fill="none" stroke="#000" stroke-width="1.3"/>
<polygon points="1601.5,1400.9 1596.8,1381.9 1606.2,1381.9" fill="#000"/>
<polyline points="1698,1284.3 1720.1,1284.3" fill="none" stroke="#000" stroke-width="1.3"/>
<polygon points="1739.1,1284.3 1720.1,1289 1720.1,1279.6" fill="#000"/>
<text x="1534" y="1240.9" font-family="Liberation Sans" font-size="33.3" textLength="103.42" lengthAdjust="spacingAndGlyphs" fill="#000">Kitchen</text>
<text x="1508.2" y="1280.4" font-family="Liberation Sans" font-size="33.3" textLength="154.15" lengthAdjust="spacingAndGlyphs" fill="#000">2.75 x 2.45</text>
<text x="1529.4" y="1320.1" font-family="Liberation Sans" font-size="33.3" textLength="112.47" lengthAdjust="spacingAndGlyphs" fill="#000">9'0 x 8'0</text>
<rect x="1739" y="1141" width="33" height="16" fill="#000" shape-rendering="crispEdges"/>
<rect x="1739" y="1141" width="17" height="155" fill="#000" shape-rendering="crispEdges"/>
<rect x="1756" y="1263" width="16" height="33" fill="#000" shape-rendering="crispEdges"/>
<rect x="1761" y="1296" width="11" height="5" fill="#000" shape-rendering="crispEdges"/>
<rect x="1761" y="1380" width="11" height="6" fill="#000" shape-rendering="crispEdges"/>
<rect x="1739" y="1386" width="33" height="197" fill="#000" shape-rendering="crispEdges"/>
<rect x="1723" y="1401" width="16" height="33" fill="#000" shape-rendering="crispEdges"/>
<rect x="1718" y="1422" width="5" height="12" fill="#000" shape-rendering="crispEdges"/>
<rect x="1739" y="1434" width="33" height="100" fill="#fff" shape-rendering="crispEdges"/>
<rect x="1739" y="1434" width="11" height="5" fill="#000" shape-rendering="crispEdges"/>
<rect x="1739" y="1529" width="11" height="5" fill="#000" shape-rendering="crispEdges"/>
<polyline points="1739.7,1439 1739.7,1529.4" fill="none" stroke="#000" stroke-width="1.3"/>
<polyline points="1745.5,1439 1745.5,1529.4" fill="none" stroke="#000" stroke-width="1.3"/>
<polyline points="1750.5,1439 1750.5,1529.4" fill="none" stroke="#000" stroke-width="1.3"/>
<polyline points="1739.7,1439 1750.5,1439" fill="none" stroke="#000" stroke-width="1.3"/>
<polyline points="1739.7,1529.4 1750.5,1529.4" fill="none" stroke="#000" stroke-width="1.3"/>
<polyline points="1771.4,1433.5 1771.4,1533.7" fill="none" stroke="#000" stroke-width="1.3"/>
<rect x="1739" y="1550" width="411" height="33" fill="#000" shape-rendering="crispEdges"/>
<rect x="2150" y="1571" width="5" height="12" fill="#000" shape-rendering="crispEdges"/>
<rect x="2234" y="1550" width="416" height="33" fill="#000" shape-rendering="crispEdges"/>
<rect x="2229" y="1571" width="5" height="12" fill="#000" shape-rendering="crispEdges"/>
<polyline points="1771.6,1380.2 1851.4,1380.2" fill="none" stroke="#000" stroke-width="1.3"/>
<path d="M1851.4,1380.2 A79.8,79.8 0 0 0 1771.6,1300.6" fill="none" stroke="#000" stroke-width="1.3"/>
<rect x="1878" y="1141" width="38" height="38" fill="#000" shape-rendering="crispEdges"/>
<rect x="1968" y="1141" width="38" height="38" fill="#000" shape-rendering="crispEdges"/>
<rect x="1920.6" y="1146.8" width="42.8" height="36.6" fill="none" stroke="#000" stroke-width="1.3"/>
<polyline points="1888.3,1178.7 1888.3,1209.4 1995.6,1209.4 1995.6,1178.7" fill="none" stroke="#000" stroke-width="1.3"/>
<polyline points="1857.3,1182.9 1857.3,1159.6" fill="none" stroke="#000" stroke-width="1.3"/>
<polygon points="1857.3,1140.6 1862,1159.6 1852.6,1159.6" fill="#000"/>
<polyline points="1813.7,1284.4 1790.7,1284.4" fill="none" stroke="#000" stroke-width="1.3"/>
<polygon points="1771.7,1284.4 1790.7,1279.7 1790.7,1289.1" fill="#000"/>
<polyline points="2086,1284.4 2109.3,1284.4" fill="none" stroke="#000" stroke-width="1.3"/>
<polygon points="2128.3,1284.4 2109.3,1289.1 2109.3,1279.7" fill="#000"/>
<polyline points="1857.2,1507.7 1857.2,1531" fill="none" stroke="#000" stroke-width="1.3"/>
<polygon points="1857.2,1550 1852.5,1531 1861.9,1531" fill="#000"/>
<text x="1876.2" y="1331.4" font-family="Liberation Sans" font-size="33.3" textLength="172.75" lengthAdjust="spacingAndGlyphs" fill="#000">Living Room</text>
<text x="1886.4" y="1371.1" font-family="Liberation Sans" font-size="33.3" textLength="152.35" lengthAdjust="spacingAndGlyphs" fill="#000">3.84 x 3.35</text>
<text x="1889.6" y="1411.2" font-family="Liberation Sans" font-size="33.3" textLength="145.41" lengthAdjust="spacingAndGlyphs" fill="#000">12'7 x 11'0</text>
<rect x="2128" y="1268" width="17" height="197" fill="#000" shape-rendering="crispEdges"/>
<rect x="2128" y="1268" width="22" height="16" fill="#000" shape-rendering="crispEdges"/>
<rect x="2240" y="1141" width="17" height="22" fill="#000" shape-rendering="crispEdges"/>
<rect x="2240" y="1241" width="17" height="224" fill="#000" shape-rendering="crispEdges"/>
<rect x="2234" y="1268" width="6" height="16" fill="#000" shape-rendering="crispEdges"/>
<rect x="2128" y="1545" width="17" height="5" fill="#000" shape-rendering="crispEdges"/>
<rect x="2145" y="1550" width="5" height="21" fill="#000" shape-rendering="crispEdges"/>
<rect x="2240" y="1545" width="17" height="5" fill="#000" shape-rendering="crispEdges"/>
<rect x="2234" y="1550" width="6" height="21" fill="#000" shape-rendering="crispEdges"/>
<polyline points="2149.9,1268.3 2192.2,1256.7 2234.5,1268.3" fill="none" stroke="#000" stroke-width="1.3"/>
<polyline points="2192.2,1256.7 2192.2,1267" fill="none" stroke="#000" stroke-width="1.3"/>
<polyline points="2240.3,1296.5 2161.5,1360 2144.7,1374.4" fill="none" stroke="#000" stroke-width="1.3"/>
<polyline points="2144.7,1374.4 2240.2,1374.4" fill="none" stroke="#000" stroke-width="1.3"/>
<polyline points="2144.7,1401.6 2240.2,1401.6" fill="none" stroke="#000" stroke-width="1.3"/>
<polyline points="2144.7,1428.6 2240.2,1428.6" fill="none" stroke="#000" stroke-width="1.3"/>
<polyline points="2144.7,1454.4 2240.2,1454.4" fill="none" stroke="#000" stroke-width="1.3"/>
<polyline points="2192.5,1459.5 2192.5,1393" fill="none" stroke="#000" stroke-width="1.3"/>
<polygon points="2192.5,1374.4 2188,1393.5 2197,1393.5" fill="#000"/>
<text x="2172" y="1488.2" font-family="Liberation Sans" font-size="33.3" textLength="38.95" lengthAdjust="spacingAndGlyphs" fill="#000">Up</text>
<polyline points="2128,1465.3 2048.3,1465.3" fill="none" stroke="#000" stroke-width="1.3"/>
<path d="M2048.3,1465.3 A79.7,79.7 0 0 0 2128,1545.2" fill="none" stroke="#000" stroke-width="1.3"/>
<polyline points="2256.6,1545.2 2335.2,1545.2" fill="none" stroke="#000" stroke-width="1.3"/>
<path d="M2335.2,1545.2 A78.6,78.6 0 0 0 2256.6,1465.3" fill="none" stroke="#000" stroke-width="1.3"/>
<polyline points="2229.4,1571 2229.4,1497.2" fill="none" stroke="#000" stroke-width="1.3"/>
<path d="M2229.4,1497.2 A73.8,73.8 0 0 0 2154.9,1571" fill="none" stroke="#000" stroke-width="1.3"/>
<polygon points="2192.4,1548.3 2209.7,1565.5 2205.4,1565.5 2193.8,1553.8 2193.8,1582 2190.2,1582 2190.2,1553.8 2179.6,1565.5 2175.6,1565.5" fill="#fff" stroke="#000" stroke-width="1.2"/>
<text x="2177.6" y="1610.5" font-family="Liberation Sans" font-size="35.5" textLength="30.2" lengthAdjust="spacingAndGlyphs" fill="#000">IN</text>
<polyline points="2256.5,1241.2 2335.8,1241.2" fill="none" stroke="#000" stroke-width="1.3"/>
<path d="M2335.8,1241.2 A79.3,79.3 0 0 0 2256.5,1162.7" fill="none" stroke="#000" stroke-width="1.3"/>
<rect x="2373" y="1141" width="38" height="38" fill="#000" shape-rendering="crispEdges"/>
<rect x="2463" y="1141" width="38" height="38" fill="#000" shape-rendering="crispEdges"/>
<rect x="2415.3" y="1146.7" width="43.5" height="36.7" fill="none" stroke="#000" stroke-width="1.3"/>
<rect x="2500.6" y="1141" width="116.6" height="53.4" fill="none" stroke="#000" stroke-width="1.3"/>
<polyline points="2543.2,1182.7 2543.2,1160" fill="none" stroke="#000" stroke-width="1.3"/>
<polygon points="2543.2,1141 2547.9,1160 2538.5,1160" fill="#000"/>
<polyline points="2297.6,1284.4 2275.6,1284.4" fill="none" stroke="#000" stroke-width="1.3"/>
<polygon points="2256.6,1284.4 2275.6,1279.7 2275.6,1289.1" fill="#000"/>
<polyline points="2640.4,1284.3 2662.3,1284.3" fill="none" stroke="#000" stroke-width="1.3"/>
<polygon points="2681.3,1284.3 2662.3,1289 2662.3,1279.6" fill="#000"/>
<polyline points="2543.3,1508.2 2543.3,1530.9" fill="none" stroke="#000" stroke-width="1.3"/>
<polygon points="2543.3,1549.9 2538.6,1530.9 2548,1530.9" fill="#000"/>
<text x="2368.2" y="1315.9" font-family="Liberation Sans" font-size="33.3" textLength="180.21" lengthAdjust="spacingAndGlyphs" fill="#000">Dining Room</text>
<text x="2381.2" y="1355.4" font-family="Liberation Sans" font-size="33.3" textLength="151.95" lengthAdjust="spacingAndGlyphs" fill="#000">4.00 x 3.84</text>
<text x="2383.8" y="1395.5" font-family="Liberation Sans" font-size="33.3" textLength="146.59" lengthAdjust="spacingAndGlyphs" fill="#000">13'1 x 12'7</text>
<text x="1380.2" y="1863.8" font-family="Liberation Sans" font-weight="bold" font-size="46" textLength="240.11" lengthAdjust="spacingAndGlyphs" fill="#000">Ground Floor</text>
<text x="887.8" y="1945.9" font-family="Liberation Sans" font-size="33.3" textLength="1203.23" lengthAdjust="spacingAndGlyphs" fill="#000">Illustration for identification purposes only, measurements are approximate, not to scale.</text>
<text x="1194.2" y="1985.7" font-family="Liberation Sans" font-size="33.3" textLength="591.35" lengthAdjust="spacingAndGlyphs" fill="#000">FloorplansUsketch.com © 2018 (ID470782)</text>
</svg>
</body></html>
